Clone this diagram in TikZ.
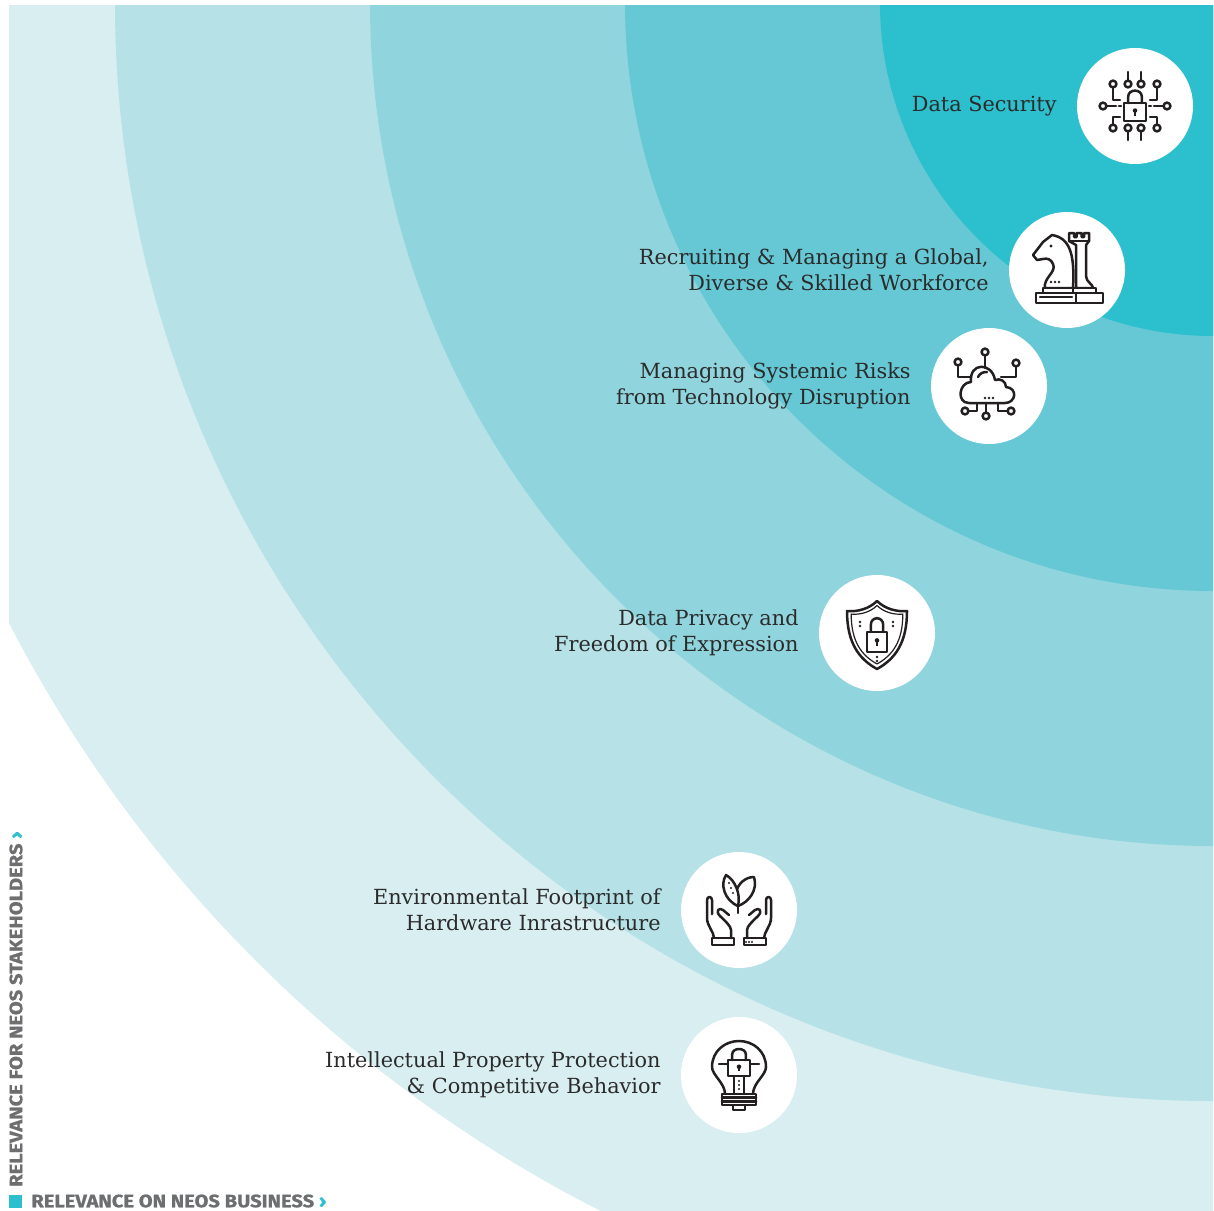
\documentclass[tikz,border=0pt]{standalone}
\usepackage{fontspec}
\setmainfont{DejaVu Serif}
\newfontfamily\axisfont[FakeStretch=1.12,FakeBold=0.8]{Fira Sans}
\usetikzlibrary{positioning}
\definecolor{bandA}{HTML}{D8EEF1}
\definecolor{bandB}{HTML}{B5E1E7}
\definecolor{bandC}{HTML}{90D5DE}
\definecolor{bandD}{HTML}{65C8D4}
\definecolor{bandE}{HTML}{2CBFCD}
\definecolor{textgray}{HTML}{2B2B2B}
\definecolor{labelgray}{HTML}{6D6E70}
\definecolor{icongray}{HTML}{231F20}
\tikzset{
  issue/.style={circle,fill=white,minimum size=116pt,inner sep=0pt},
  issuetext/.style={align=right,text=textgray,inner sep=0pt,
    font=\fontsize{20.8}{26}\selectfont},
  axislabel/.style={text=labelgray,inner sep=0pt,
    font=\axisfont\bfseries\fontsize{18}{18}\selectfont},
  iconline/.style={draw=icongray,line width=2.5pt,line cap=round,line join=round}
}
\newcommand*{\iconpin}[1]
  {\draw[iconline,fill=white] (#1) circle (3.4pt)}
\newcommand*{\padlock}[4]{%
  \draw[iconline] (#1-#3,#2) rectangle (#1+#3,#2+#4);
  \draw[iconline] (#1-0.62*#3,#2) -- (#1-0.62*#3,#2-0.35*#4)
    .. controls (#1-0.62*#3,#2-0.8*#4) and (#1+0.62*#3,#2-0.8*#4) ..
    (#1+0.62*#3,#2-0.35*#4) -- (#1+0.62*#3,#2);
  \fill[icongray] (#1,#2+0.42*#4) circle (2.3pt);
  \draw[icongray,line width=1.8pt] (#1,#2+0.42*#4) -- (#1,#2+0.7*#4);}
\newcommand*{\openhand}{%
  \draw[iconline] (-25,28) .. controls (-25,22) and (-32,16) .. (-32,8)
    -- (-32,-10) .. controls (-32,-14) and (-27,-14) .. (-27,-10) -- (-27,4);
  \draw[iconline] (-8,28) -- (-8,20) .. controls (-8,16) and (-14,11) .. (-19,6)
    .. controls (-24,1) and (-20,-3) .. (-16,0) -- (-10,5);
  \draw[iconline] (-27,28) rectangle (-5,35);}

\begin{document}
\begin{tikzpicture}[x=1pt,y=-1pt]
\useasboundingbox (0,0) rectangle (1214,1210);
\coordinate (O) at (1213,3);
\begin{scope}
\clip (9,5) rectangle (1213,1210);
\fill[bandA] (O) circle (1354pt);
\fill[bandB] (O) circle (1098pt);
\fill[bandC] (O) circle (843pt);
\fill[bandD] (O) circle (588pt);
\fill[bandE] (O) circle (333pt);
\end{scope}

\node[issue] (security) at (1135,106) {};
\node[issue] (workforce) at (1067,270) {};
\node[issue] (disruption) at (989,386) {};
\node[issue] (privacy) at (877,633) {};
\node[issue] (footprint) at (739,910) {};
\node[issue] (property) at (739,1075) {};

\node[issuetext,left=20pt of security] (securitytext) {Data Security};
\node[issuetext,left=20pt of workforce] (workforcetext)
  {Recruiting \& Managing a Global,\\Diverse \& Skilled Workforce};
\node[issuetext,left=20pt of disruption] (disruptiontext)
  {Managing Systemic Risks\\from Technology Disruption};
\node[issuetext,left=20pt of privacy] (privacytext)
  {Data Privacy and\\Freedom of Expression};
\node[issuetext,left=20pt of footprint] (footprinttext)
  {Environmental Footprint of\\Hardware Inrastructure};
\node[issuetext,left=20pt of property] (propertytext)
  {Intellectual Property Protection\\\& Competitive Behavior};

\node[fill=bandE,minimum size=13pt,inner sep=0pt] (mark) at (15.5,1201) {};
\node[axislabel,right=9pt of mark] (business)
  {RELEVANCE ON NEOS BUSINESS \textcolor{bandE}{›}};
\node[axislabel,rotate=90,anchor=west] (stakeholders) at (16,1187)
  {RELEVANCE FOR NEOS STAKEHOLDERS \textcolor{bandE}{›}};

\begin{scope}[shift={(security.center)}]
\padlock{0}{-3}{11}{18}
\foreach \x in {-7,6} {
  \draw[iconline] (\x,-25.4) -- (\x,-34);
  \draw[iconline] (\x,25.4) -- (\x,34);
  \iconpin{\x,-22}; \iconpin{\x,22};
}
\foreach \s in {-1,1} {
  \draw[iconline] (22*\s,-18.6) |- (15*\s,-6);
  \draw[iconline] (22*\s,18.6) |- (15*\s,11);
  \draw[iconline] (28.6*\s,0) -- (19*\s,0) (16*\s,0) -- (14*\s,0);
  \iconpin{22*\s,-22}; \iconpin{22*\s,22}; \iconpin{32*\s,0};
}
\end{scope}

\begin{scope}[shift={(workforce.center)}]
\draw[iconline,fill=white] (9,18) -- (9,-25) -- (2,-29) -- (2,-37) -- (7,-37)
  -- (7,-33) -- (9.5,-33) -- (9.5,-37) -- (14.5,-37) -- (14.5,-33) -- (17,-33)
  -- (17,-37) -- (22,-37) -- (22,-29) -- (19,-25) -- (19,6)
  .. controls (19,12) and (26,14) .. (26,18) -- cycle;
\draw[iconline] (2,-29) -- (22,-29);
\draw[iconline,fill=white] (6,18) rectangle (29,23);
\draw[iconline,fill=white] (4,23) rectangle (36,33);
\draw[iconline,fill=white] (-22,18) .. controls (-24,8) and (-10,2) .. (-14,-6)
  .. controls (-16,-11) and (-20,-12) .. (-24,-11) -- (-30,-10) -- (-34,-15)
  -- (-24,-28) -- (-15,-35) .. controls (2,-32) and (8,-18) .. (6,18) -- cycle;
\draw[iconline,fill=white] (-24,18) rectangle (6,23);
\draw[iconline,fill=white] (-31,23) rectangle (9,33);
\draw[iconline] (-27,27) -- (5,27);
\fill[icongray] (-16,-24) circle (1.7pt);
\foreach \x in {-16,-12,-8} \fill[icongray] (\x,12) circle (1.3pt);
\end{scope}

\begin{scope}[shift={(disruption.center)}]
\draw[iconline] (-20,17) -- (16,17)
  .. controls (27,17) and (29,2) .. (17,1)
  .. controls (17,-5) and (11,-8) .. (6,-6)
  .. controls (3,-24) and (-20,-24) .. (-18,-4)
  .. controls (-30,-4) and (-33,17) .. (-20,17) -- cycle;
\draw[iconline] (-11,-9) .. controls (-9,-13) and (-6,-14) .. (-2,-14);
\foreach \x in {-4,0,4} \fill[icongray] (\x,12) circle (1.3pt);
\draw[iconline] (-4,-18) -- (-4,-30.6);
\draw[iconline] (-31,-20.6) |- (-19,-9);
\draw[iconline] (27,-19.6) |- (12,-9);
\draw[iconline] (-3,17) -- (-3,26.6);
\draw[iconline] (-12,17) |- (-20.6,25);
\draw[iconline] (9,17) |- (18.6,25);
\iconpin{-4,-34}; \iconpin{-31,-24}; \iconpin{27,-23};
\iconpin{-24,25}; \iconpin{-3,30}; \iconpin{22,25};
\end{scope}

\begin{scope}[shift={(privacy.center)}]
\foreach \f/\w in {1/2.5,0.86/1.2}
  \draw[iconline,line width=\w pt,scale=\f] (0,-32)
    .. controls (-8,-24) and (-20,-21) .. (-30,-22)
    .. controls (-30,10) and (-18,26) .. (0,36)
    .. controls (18,26) and (30,10) .. (30,-22)
    .. controls (20,-21) and (8,-24) .. (0,-32) -- cycle;
\padlock{0}{-1}{10}{20}
\foreach \p in {{0,-15},{-17,-11},{-17,-7},{16,-11},{16,-7},{0,24},{0,28}}
  \fill[icongray] (\p) circle (1.3pt);
\end{scope}

\begin{scope}[shift={(footprint.center)}]
\openhand
\begin{scope}[xscale=-1]
\openhand
\end{scope}
\foreach \x in {7,10,13} \fill[icongray] (\x,32) circle (1.2pt);
\draw[iconline] (-1,-4) .. controls (10,-8) and (19,-20) .. (15,-33)
  .. controls (6,-33) and (-1,-26) .. (-3,-18);
\draw[iconline,fill=white] (-1,-4) .. controls (-15,-10) and (-19,-26) .. (-13,-35)
  .. controls (-4,-30) and (2,-16) .. (-1,-4) -- cycle;
\draw[iconline] (-1,-4) -- (-1,3);
\foreach \p in {{-10,-27},{-8,-22},{-6,-17}}
  \fill[icongray] (\p) circle (1.2pt);
\end{scope}

\begin{scope}[shift={(property.center)}]
\draw[iconline] (-14,19) .. controls (-14,8) and (-27,0) .. (-27,-8)
  .. controls (-27,-24) and (-14,-34) .. (0,-34)
  .. controls (14,-34) and (27,-24) .. (27,-8)
  .. controls (27,0) and (14,8) .. (14,19);
\draw[iconline] (-17,19) rectangle (17,30);
\draw[iconline] (-17,22.7) -- (17,22.7) (-17,26.4) -- (17,26.4);
\draw[iconline] (-6,30) rectangle (6,35);
\padlock{0}{-15}{11}{16}
\draw[iconline] (-20,-11) -- (-11,-11) (11,-11) -- (20,-11);
\draw[iconline] (-5,1) -- (-5,19) (5,1) -- (5,19);
\foreach \y in {6,10,14} \fill[icongray] (0,\y) circle (1.2pt);
\end{scope}
\end{tikzpicture}
\end{document}
